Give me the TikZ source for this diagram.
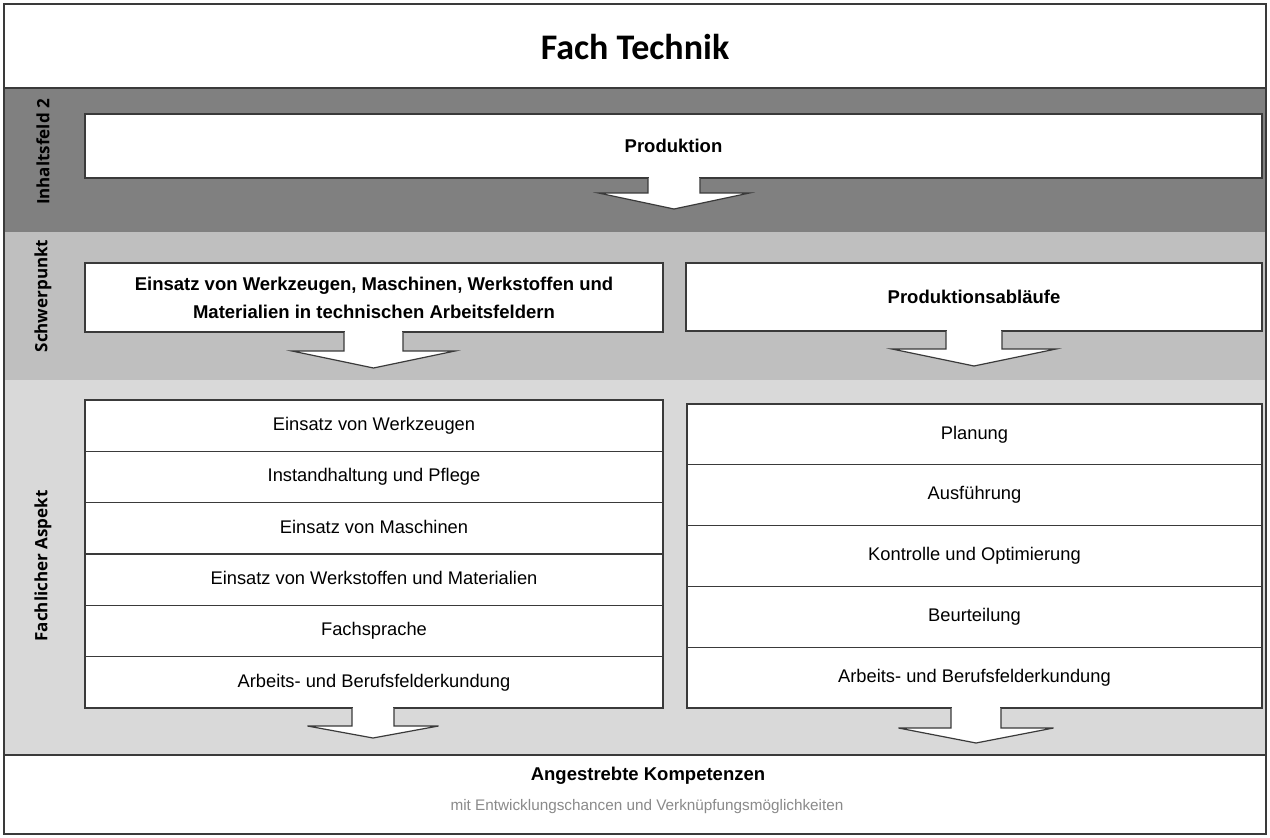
\documentclass[tikz,border=0pt]{standalone}
\usepackage{fontspec}
\setmainfont{Liberation Sans}
\newfontfamily\titlefont{Carlito}
\newfontfamily\sidefont{Open Sans}
\definecolor{bandA}{HTML}{808080}
\definecolor{bandB}{HTML}{BFBFBF}
\definecolor{bandC}{HTML}{D9D9D9}
\definecolor{lineC}{HTML}{3A3A3A}
\definecolor{subC}{HTML}{8A8A8A}
\tikzset{
  frameline/.style={draw=lineC, line width=1.3pt},
  box/.style={draw=lineC, fill=white, line width=1.2pt, inner sep=0pt, align=center},
  boldtext/.style={font=\fontsize{18.5}{28}\selectfont\bfseries},
  normtext/.style={font=\fontsize{18.3}{22}\selectfont},
  lrow/.style={box, normtext, minimum width=578pt, minimum height=51.33pt, text height=13pt, text depth=3.5pt},
  rrow/.style={box, normtext, minimum width=575pt, minimum height=60.8pt, text height=13pt, text depth=3.5pt},
  sidelab/.style={font=\sidefont\fontsize{17}{20}\selectfont\bfseries, rotate=90, inner sep=0pt},
  arrowsty/.style={draw=lineC, fill=white, line width=1.2pt, line join=miter},
}
\newcommand\fatarrow[6]{%
  \filldraw[arrowsty] (#1-#3,#2) -- (#1-#3,#2+#4) -- (#1-#5,#2+#4) -- (#1,#2+#4+#6) -- (#1+#5,#2+#4) -- (#1+#3,#2+#4) -- (#1+#3,#2);
  \fill[white] (#1-#3+0.6,#2-2) rectangle (#1+#3-0.6,#2+1);
}
\begin{document}
\begin{tikzpicture}[x=1pt,y=-1pt]
\useasboundingbox (0,0) rectangle (1270,838);
% bands
\fill[white] (4,4) rectangle (1266,88);
\fill[bandA] (4,88) rectangle (1266,232);
\fill[bandB] (4,232) rectangle (1266,380);
\fill[bandC] (4,380) rectangle (1266,755);
\fill[white] (4,755) rectangle (1266,834);
\draw[frameline] (4,4) rectangle (1266,834);
\draw[frameline] (4,88) -- (1266,88);
\draw[frameline] (4,755) -- (1266,755);

% title
\node[font=\titlefont\fontsize{36}{40}\selectfont\bfseries] (title) at (635,47) {Fach Technik};

% side labels
\node[sidelab] (lab1) at (43,152) {Inhaltsfeld 2};
\node[sidelab] (lab2) at (43,296) {Schwerpunkt};
\node[sidelab] (lab3) at (43,566) {Fachlicher Aspekt};

% Inhaltsfeld
\node[box, boldtext, minimum width=1177pt, minimum height=64pt] (prod) at (673.5,146) {Produktion};
\fatarrow{674}{178}{26}{15}{75.5}{16}

% Schwerpunkt
\node[box, boldtext, minimum width=578pt, minimum height=69pt] (swl) at (374,297.5)
  {Einsatz von Werkzeugen, Maschinen, Werkstoffen und\\Materialien in technischen Arbeitsfeldern};
\fatarrow{373.5}{332}{29.5}{19}{81.5}{17}
\node[box, boldtext, minimum width=576pt, minimum height=68pt] (swr) at (974,297) {Produktionsabläufe};
\fatarrow{974}{331}{28}{18}{82}{17}

% Fachlicher Aspekt left
\node[lrow] (l1) at (374,425.67) {Einsatz von Werkzeugen};
\node[lrow] (l2) at (374,477.00) {Instandhaltung und Pflege};
\node[lrow] (l3) at (374,528.33) {Einsatz von Maschinen};
\node[lrow] (l4) at (374,579.67) {Einsatz von Werkstoffen und Materialien};
\node[lrow] (l5) at (374,631.00) {Fachsprache};
\node[lrow] (l6) at (374,682.33) {Arbeits- und Berufsfelderkundung};
\fatarrow{373}{708}{21}{18}{65.5}{12}

% Fachlicher Aspekt right
\node[rrow] (r1) at (974.5,434.4) {Planung};
\node[rrow] (r2) at (974.5,495.2) {Ausführung};
\node[rrow] (r3) at (974.5,556.0) {Kontrolle und Optimierung};
\node[rrow] (r4) at (974.5,616.8) {Beurteilung};
\node[rrow] (r5) at (974.5,677.6) {Arbeits- und Berufsfelderkundung};
\fatarrow{976}{708}{25}{20}{77.5}{15}

% bottom
\node[boldtext] (komp) at (648,776) {Angestrebte Kompetenzen};
\node[font=\fontsize{15.3}{18}\selectfont, text=subC] (sub) at (647,807) {mit Entwicklungschancen und Verknüpfungsmöglichkeiten};
\end{tikzpicture}
\end{document}
